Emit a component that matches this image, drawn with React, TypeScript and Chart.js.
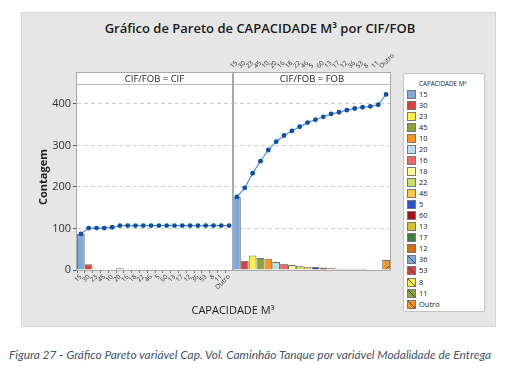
import React, { useEffect, useRef } from "react";
import { Chart, registerables } from "chart.js";
Chart.register(...registerables);

const categories = ["15", "30", "23", "45", "10", "20", "16", "18", "22", "46", "5", "60", "13", "17", "12", "36", "53", "8", "11", "Outro"];
const cifCounts = [87, 14, 0, 0, 2, 4, 0, 0, 0, 0, 0, 0, 0, 0, 0, 0, 0, 0, 0, 0];
const cifCumulative = [87, 101, 101, 101, 103, 107, 107, 107, 107, 107, 107, 107, 107, 107, 107, 107, 107, 107, 107, 107];
const fobCounts = [176, 22, 35, 29, 27, 19, 15, 12, 10, 8, 7, 6, 5, 3, 3, 3, 3, 2, 2, 24];
const fobCumulative = [176, 198, 233, 262, 289, 309, 324, 335, 345, 355, 362, 369, 376, 380, 385, 389, 392, 394, 398, 423];
const yTicks = [0, 100, 200, 300, 400];
const categoryColors = ["#7ea8da", "#d8413f", "#fff045", "#8ca23a", "#f7961c", "#b9dce9", "#ec6766", "#ffff9a", "#c8e06a", "#ffc846", "#2d4fc8", "#9e1414", "#d5c12e", "#3f7c40", "#d46b12", "#7ea8da", "#d8413f", "#fff045", "#8ca23a", "#f7961c"];
const hatched = [false, false, false, false, false, false, false, false, false, false, false, false, false, false, false, true, true, true, true, true];

const FONT = "'Open Sans', 'Noto Sans', sans-serif";

function makePattern(color: string): CanvasPattern | string {
  const c = document.createElement("canvas");
  c.width = 20;
  c.height = 20;
  const g = c.getContext("2d");
  if (!g) return color;
  g.fillStyle = color;
  g.fillRect(0, 0, 20, 20);
  g.strokeStyle = "#444";
  g.lineWidth = 0.8;
  g.beginPath();
  g.moveTo(0, 20);
  g.lineTo(20, 0);
  g.stroke();
  const p = g.createPattern(c, "repeat");
  return p || color;
}

function buildConfig(counts: number[], cumulative: number[], isLeft: boolean): any {
  const fills = categoryColors.map((c, i) => (hatched[i] ? makePattern(c) : c));
  return {
    type: "bar",
    data: {
      labels: categories,
      datasets: [
        {
          type: "line",
          data: cumulative,
          borderColor: "#4b8fd9",
          borderWidth: 1.2,
          pointRadius: 2.4,
          pointBackgroundColor: "#0b4fa6",
          pointBorderWidth: 0,
          clip: false,
          order: 1,
        },
        {
          type: "bar",
          data: counts,
          backgroundColor: fills,
          borderColor: "#6e6e6e",
          borderWidth: counts.map((v) => (v > 0 ? 1 : 0)),
          barPercentage: 0.99,
          categoryPercentage: 1,
          order: 2,
        },
      ],
    },
    options: {
      responsive: false,
      animation: false,
      devicePixelRatio: 1,
      layout: { autoPadding: false, padding: { left: isLeft ? 0 : 10, right: isLeft ? 0 : 16, top: 0, bottom: 0 } },
      plugins: { legend: { display: false }, tooltip: { enabled: false } },
      scales: {
        x: {
          type: "category",
          position: isLeft ? "bottom" : "top",
          border: { display: false },
          grid: { display: true, drawOnChartArea: false, drawTicks: true, tickLength: 3, tickColor: "#777" },
          ticks: {
            autoSkip: false,
            minRotation: 45,
            maxRotation: 45,
            padding: isLeft ? 0 : 11,
            color: "#333",
            font: { family: FONT, size: 6.5 },
          },
          afterFit: (s: any) => {
            s.height = isLeft ? 45 : 32;
            s.paddingLeft = 0;
            s.paddingRight = 0;
          },
        },
        y: {
          min: 0,
          max: 448,
          afterBuildTicks: (s: any) => {
            s.ticks = yTicks.map((v) => ({ value: v }));
          },
          border: { display: false, dash: [4, 3] },
          grid: {
            color: (c: any) => (c.tick && c.tick.value === 0 ? "rgba(0,0,0,0)" : "#cfcfcf"),
            drawTicks: isLeft,
            tickLength: 4,
            tickColor: "#555",
            tickBorderDash: [],
          },
          ticks: {
            display: isLeft,
            padding: 2,
            color: "#333",
            font: { family: FONT, size: 11 },
          },
          title: {
            display: isLeft,
            text: "Contagem",
            color: "#222",
            font: { family: FONT, size: 11, weight: "bold" },
            padding: { top: 13, bottom: 0 },
          },
          afterFit: (s: any) => {
            s.width = isLeft ? 53 : 0;
            s.paddingTop = 0;
            s.paddingBottom = 0;
          },
        },
      },
    },
  };
}

function Panel({ counts, cumulative, isLeft, style, width, height }: any) {
  const ref = useRef<HTMLCanvasElement>(null);
  useEffect(() => {
    if (!ref.current) return;
    const chart = new Chart(ref.current, buildConfig(counts, cumulative, isLeft));
    return () => chart.destroy();
  }, []);
  return <canvas ref={ref} width={width} height={height} style={{ position: "absolute", width, height, ...style }} />;
}

function swatchBg(i: number) {
  const c = categoryColors[i];
  if (!hatched[i]) return c;
  return `linear-gradient(to top right, ${c} 44%, #444 44%, #444 56%, ${c} 56%)`;
}

export default function App() {
  return (
    <div style={{ position: "absolute", left: 0, top: 0, width: 505, height: 370, background: "#fff", overflow: "hidden" }}>
      <div style={{ position: "absolute", left: 21, top: 12, width: 475, height: 315, background: "#e6e6e6", border: "1px solid #d6d6d6", boxSizing: "border-box" }} />
      <div style={{ position: "absolute", left: 21, top: 18, width: 478, textAlign: "center", fontFamily: FONT, fontWeight: 600, fontSize: 13, color: "#1a1a1a", lineHeight: "20px", whiteSpace: "nowrap" }}>
        Gráfico de Pareto de CAPACIDADE M³ por CIF/FOB
      </div>
      <div style={{ position: "absolute", left: 77, top: 84, width: 313, height: 186, background: "#fff" }} />
      <Panel counts={cifCounts} cumulative={cifCumulative} isLeft={true} width={209} height={231} style={{ left: 24, top: 84 }} />
      <Panel counts={fobCounts} cumulative={fobCumulative} isLeft={false} width={183} height={218} style={{ left: 223, top: 52 }} />
      <div style={{ position: "absolute", left: 76, top: 72, width: 315, height: 199, border: "1px solid #a9a9a9", boxSizing: "border-box" }} />
      <div style={{ position: "absolute", left: 232, top: 72, width: 2, height: 199, background: "#a9a9a9" }} />
      <div style={{ position: "absolute", left: 77, top: 73, width: 155, height: 11, background: "#fff", borderBottom: "1px solid #bdbdbd", fontFamily: FONT, fontSize: 9.5, lineHeight: "11px", textAlign: "center", color: "#222" }}>
        CIF/FOB = CIF
      </div>
      <div style={{ position: "absolute", left: 234, top: 73, width: 156, height: 11, background: "#fff", borderBottom: "1px solid #bdbdbd", fontFamily: FONT, fontSize: 9.5, lineHeight: "11px", textAlign: "center", color: "#222" }}>
        CIF/FOB = FOB
      </div>
      <div style={{ position: "absolute", left: 150, top: 302, width: 166, textAlign: "center", fontFamily: FONT, fontSize: 11, lineHeight: "16px", color: "#222" }}>
        CAPACIDADE M³
      </div>
      <div style={{ position: "absolute", left: 403, top: 73, width: 82, height: 239, background: "#fff", border: "1px solid #c4c4c4", borderRadius: 2, boxSizing: "border-box" }}>
        <div style={{ position: "absolute", left: 15, top: 5, fontFamily: FONT, fontSize: 6.3, lineHeight: "9px", color: "#222", whiteSpace: "nowrap" }}>CAPACIDADE M³</div>
        {categories.map((c, i) => (
          <div key={c} style={{ position: "absolute", left: 0, top: 15 + i * 11.03, height: 9, width: 80 }}>
            <div style={{ position: "absolute", left: 3, top: 1, width: 7, height: 7, background: swatchBg(i), border: "1px solid #777" }} />
            <div style={{ position: "absolute", left: 15, top: 0, fontFamily: FONT, fontSize: 7.5, lineHeight: "10px", color: "#222", whiteSpace: "nowrap" }}>{c}</div>
          </div>
        ))}
      </div>
      <div style={{ position: "absolute", left: 9, top: 347, width: 495, fontFamily: "Lato, 'Open Sans', sans-serif", fontStyle: "italic", fontSize: 11.9, lineHeight: "16px", color: "#44546a", whiteSpace: "nowrap" }}>
        Figura 27 - Gráfico Pareto variável Cap. Vol. Caminhão Tanque por variável Modalidade de Entrega
      </div>
    </div>
  );
}
